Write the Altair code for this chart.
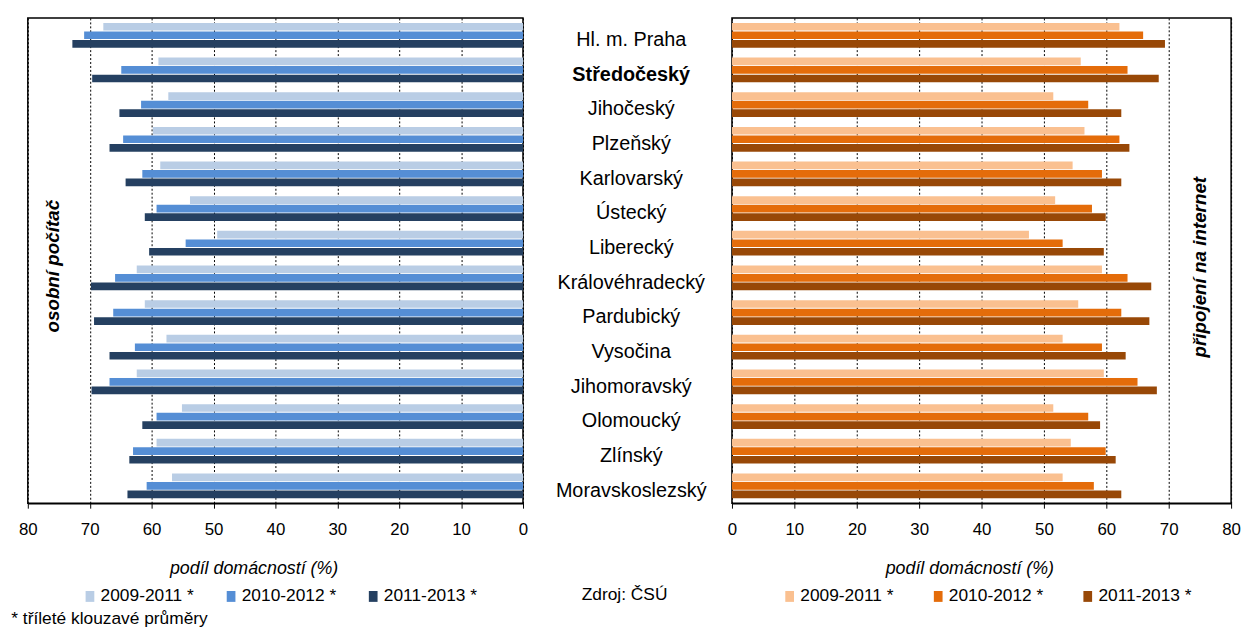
import altair as alt
import pandas as pd

regions = ["Hl. m. Praha", "Středočeský", "Jihočeský", "Plzeňský", "Karlovarský",
           "Ústecký", "Liberecký", "Královéhradecký", "Pardubický", "Vysočina",
           "Jihomoravský", "Olomoucký", "Zlínský", "Moravskoslezský"]
series = ["2009-2011 *", "2010-2012 *", "2011-2013 *"]

pc_2009_2011 = [67.8, 58.9, 57.3, 59.8, 58.6, 53.8, 49.4, 62.4, 61.1, 57.6, 62.4, 55.1, 59.2, 56.7]
pc_2010_2012 = [70.9, 64.9, 61.7, 64.6, 61.5, 59.2, 54.5, 65.9, 66.2, 62.7, 66.8, 59.2, 63.0, 60.8]
pc_2011_2013 = [72.8, 69.6, 65.2, 66.8, 64.2, 61.1, 60.4, 69.8, 69.3, 66.8, 69.7, 61.5, 63.6, 63.9]

net_2009_2011 = [62.1, 55.9, 51.5, 56.5, 54.6, 51.8, 47.6, 59.3, 55.5, 53.0, 59.6, 51.5, 54.3, 53.0]
net_2010_2012 = [65.9, 63.4, 57.1, 62.1, 59.3, 57.7, 53.0, 63.4, 62.4, 59.3, 65.0, 57.1, 59.9, 58.0]
net_2011_2013 = [69.4, 68.4, 62.4, 63.7, 62.4, 59.9, 59.6, 67.2, 66.9, 63.1, 68.1, 59.0, 61.5, 62.4]

blue_colors = ["#B9CDE5", "#558ED5", "#254061"]
orange_colors = ["#FAC090", "#E46C0A", "#984807"]

tick_values = [0, 10, 20, 30, 40, 50, 60, 70, 80]
FONT = "Liberation Sans"


def long_df(cols):
    rows = []
    for s, vals in zip(series, cols):
        for r, v in zip(regions, vals):
            rows.append({"region": r, "series": s, "value": v})
    return pd.DataFrame(rows)


pc_df = long_df([pc_2009_2011, pc_2010_2012, pc_2011_2013])
net_df = long_df([net_2009_2011, net_2010_2012, net_2011_2013])

H = 490
y_scale = alt.Scale(paddingInner=0.2857, paddingOuter=0.143)
sym = "M-0.8,-1H0.8V1H-0.8Z"


def x_axis(title_x):
    return alt.Axis(values=tick_values, title="podíl domácností (%)", titleFontStyle="italic",
                    titleFontWeight="normal", titleFontSize=18, titleFont=FONT, titleColor="#000",
                    titleX=title_x, titleY=66, titleBaseline="middle",
                    labelFontSize=17, labelFont=FONT, labelColor="#000", labelBaseline="middle",
                    labelPadding=22, labelFlush=False, tickSize=5, tickColor="#000",
                    domainColor="#000", domainWidth=1.5, grid=True, gridColor="#000",
                    gridDash=[2, 2], gridWidth=1)


def bars(df, colors, reverse, title_x, legend_x, col_pad):
    return alt.Chart(df).mark_bar().encode(
        y=alt.Y("region:N", sort=regions, axis=None, scale=y_scale),
        yOffset=alt.YOffset("series:N", sort=series, scale=alt.Scale(paddingInner=0.1)),
        x=alt.X("value:Q", scale=alt.Scale(domain=[0, 80], reverse=reverse, nice=False),
                axis=x_axis(title_x)),
        color=alt.Color("series:N", sort=series,
                        scale=alt.Scale(domain=series, range=colors),
                        legend=alt.Legend(orient="none", legendX=legend_x, legendY=575,
                                          direction="horizontal", columns=3, title=None,
                                          labelFontSize=17.5, labelFont=FONT, labelColor="#000",
                                          symbolType=sym, symbolSize=121, symbolStrokeWidth=0,
                                          labelOffset=2, columnPadding=col_pad)),
    )


def text_layer(txt, x, y, **kw):
    return alt.Chart(pd.DataFrame({"t": [txt]})).mark_text(font=FONT, color="#000", **kw).encode(
        text="t:N", x=alt.value(x), y=alt.value(y))


frame = alt.ViewBackground(stroke="#000", strokeWidth=1.5)

left = alt.layer(
    bars(pc_df, blue_colors, True, 228, 54, 28.5),
    text_layer("osobní počítač", 25, 250.7, angle=270, fontSize=19, fontWeight="bold",
               fontStyle="italic", baseline="middle", align="center"),
    text_layer("* tříleté klouzavé  průměry", -16.7, 606.5, fontSize=17.5, baseline="middle",
               align="left"),
).properties(width=500, height=H, view=frame)

mid_norm = [r for r in regions if r != "Středočeský"]
mid = alt.layer(
    alt.Chart(pd.DataFrame({"region": mid_norm})).mark_text(
        font=FONT, fontSize=20, color="#000", baseline="middle", align="center", dy=5).encode(
        y=alt.Y("region:N", sort=regions, axis=None, scale=y_scale),
        x=alt.value(109.3), text="region:N"),
    alt.Chart(pd.DataFrame({"region": ["Středočeský"]})).mark_text(
        font=FONT, fontSize=20, fontWeight="bold", color="#000", baseline="middle",
        align="center", dy=5).encode(
        y=alt.Y("region:N", sort=regions, axis=None, scale=y_scale),
        x=alt.value(109.3), text="region:N"),
    text_layer("Zdroj: ČSÚ", 59.3, 583, fontSize=17.5, baseline="middle", align="left"),
).properties(width=210.6, height=H, view=alt.ViewBackground(stroke="transparent"))

right = alt.layer(
    bars(net_df, orange_colors, False, 239.7, 49.5, 36),
    text_layer("připojení na internet", 472.7, 251.7, angle=270, fontSize=19, fontWeight="bold",
               fontStyle="italic", baseline="middle", align="center"),
).properties(width=504, height=H, view=frame)

chart = alt.hconcat(left, mid, right, spacing=0, bounds="flush").resolve_scale(
    color="independent", y="independent", x="independent"
).properties(
    padding={"left": 2, "top": 6, "right": 0, "bottom": 0}
).configure(background="white")

chart.save("out.html", embed_options={"renderer": "svg", "actions": False})
